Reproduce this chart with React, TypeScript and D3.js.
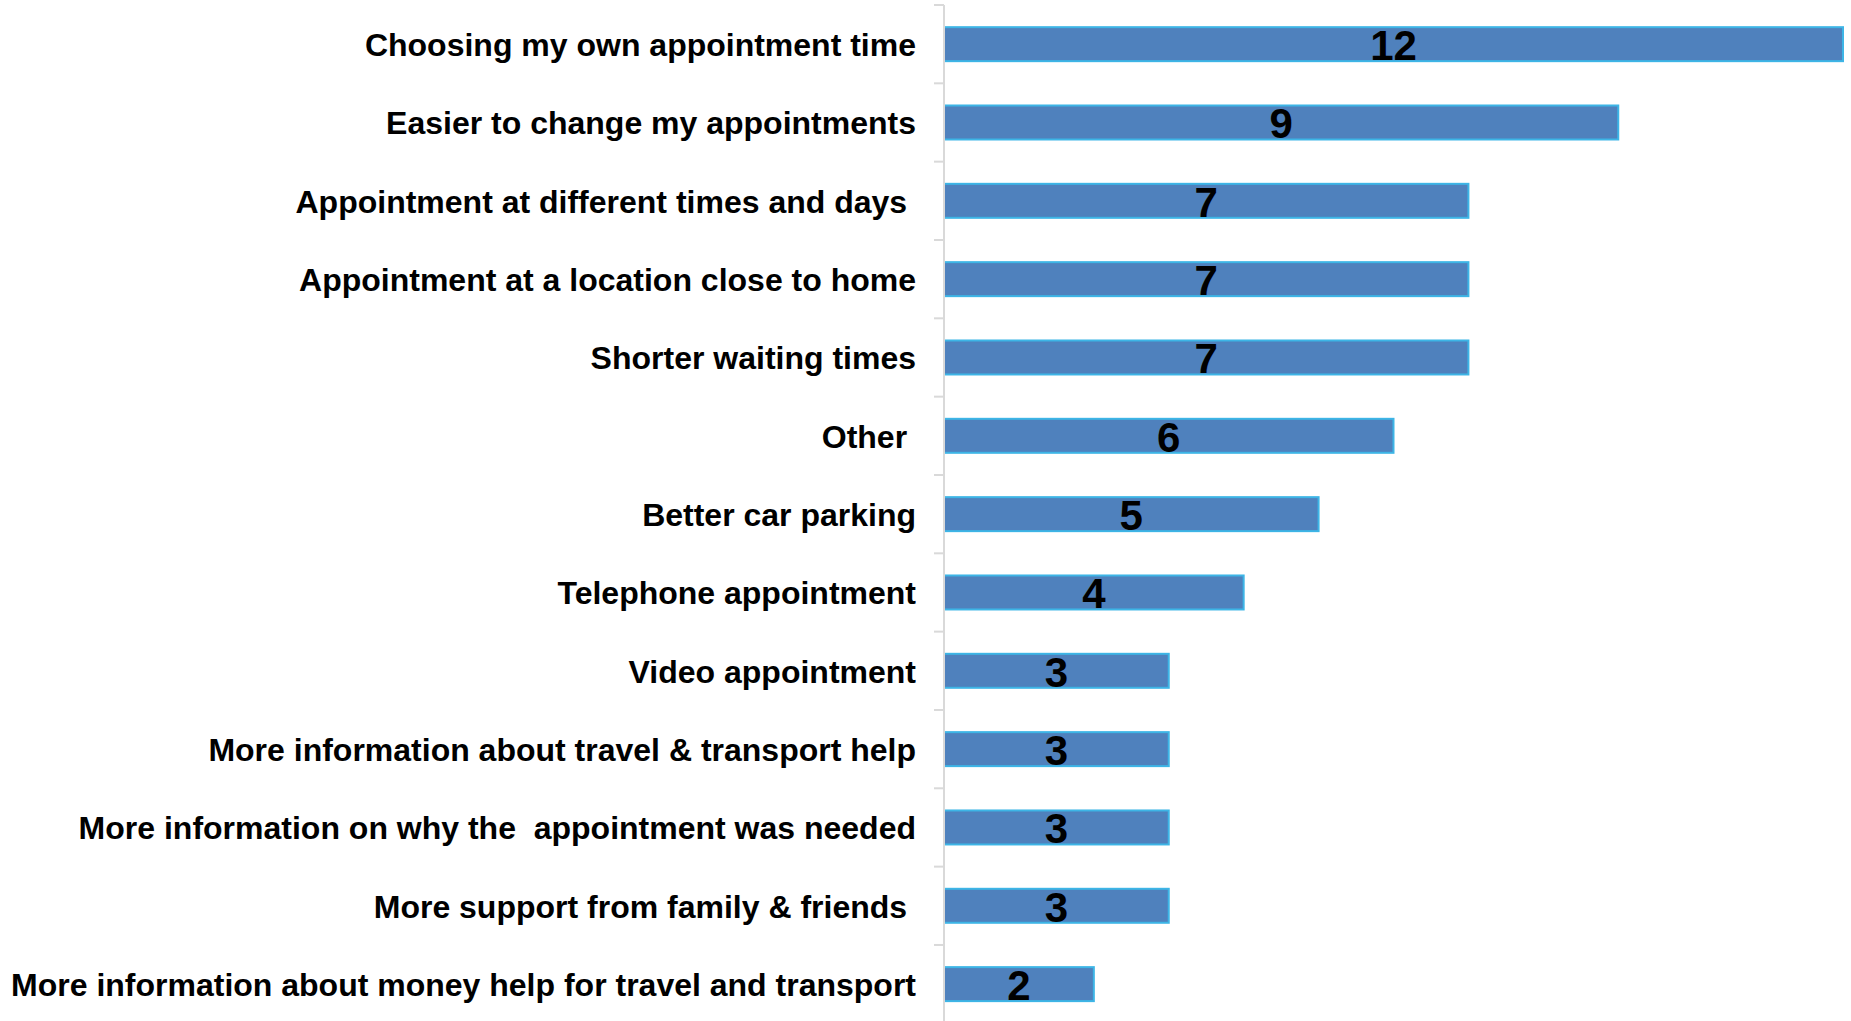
import React from "react";
import * as d3 from "d3";

const categories: string[] = [
  "Choosing my own appointment time",
  "Easier to change my appointments",
  "Appointment at different times and days ",
  "Appointment at a location close to home",
  "Shorter waiting times",
  "Other ",
  "Better car parking",
  "Telephone appointment",
  "Video appointment",
  "More information about travel & transport help",
  "More information on why the  appointment was needed",
  "More support from family & friends ",
  "More information about money help for travel and transport",
];

const values: number[] = [12, 9, 7, 7, 7, 6, 5, 4, 3, 3, 3, 3, 2];

const W = 1851;
const H = 1021;
const FONT = "'Liberation Sans', Arial, Helvetica, sans-serif";

export default function App() {
  const axisX = 944;
  const x = d3.scaleLinear().domain([0, 12]).range([axisX, 1843]);
  const n = categories.length;
  const top = 5;
  const step = 78.33;
  const y = d3
    .scaleBand<string>()
    .domain(categories)
    .range([top, top + n * step])
    .paddingInner(0.566)
    .paddingOuter(0.283);
  const bw = y.bandwidth();
  const st = y.step();
  const boundaries = d3.range(n + 1).map((i) => top + i * st);

  return (
    <svg
      width={W}
      height={H}
      style={{ position: "absolute", left: 0, top: 0, background: "#fff" }}
    >
      {/* bars */}
      {categories.map((c, i) => (
        <rect
          key={"b" + i}
          x={x(0)}
          y={y(c)!}
          width={x(values[i]) - x(0)}
          height={bw}
          fill="#4F81BD"
          stroke="#3DB5E6"
          strokeWidth={2}
        />
      ))}
      {/* axis */}
      <line x1={axisX} x2={axisX} y1={top} y2={H} stroke="#D9D9D9" strokeWidth={2} />
      {boundaries.map((b, i) => (
        <line key={"t" + i} x1={axisX - 10} x2={axisX} y1={b} y2={b} stroke="#D9D9D9" strokeWidth={2} />
      ))}
      {/* category labels */}
      {categories.map((c, i) => (
        <text
          key={"l" + i}
          x={916}
          y={y(c)! + bw / 2 + 12}
          textAnchor="end"
          fontFamily={FONT}
          fontWeight="bold"
          fontSize={32}
          fill="#000"
          style={{ whiteSpace: "pre" }}
        >
          {c}
        </text>
      ))}
      {/* value labels */}
      {categories.map((c, i) => (
        <text
          key={"v" + i}
          x={(x(0) + x(values[i])) / 2}
          y={y(c)! + bw / 2 + 16}
          textAnchor="middle"
          fontFamily={FONT}
          fontWeight="bold"
          fontSize={42}
          fill="#000"
        >
          {values[i]}
        </text>
      ))}
    </svg>
  );
}
